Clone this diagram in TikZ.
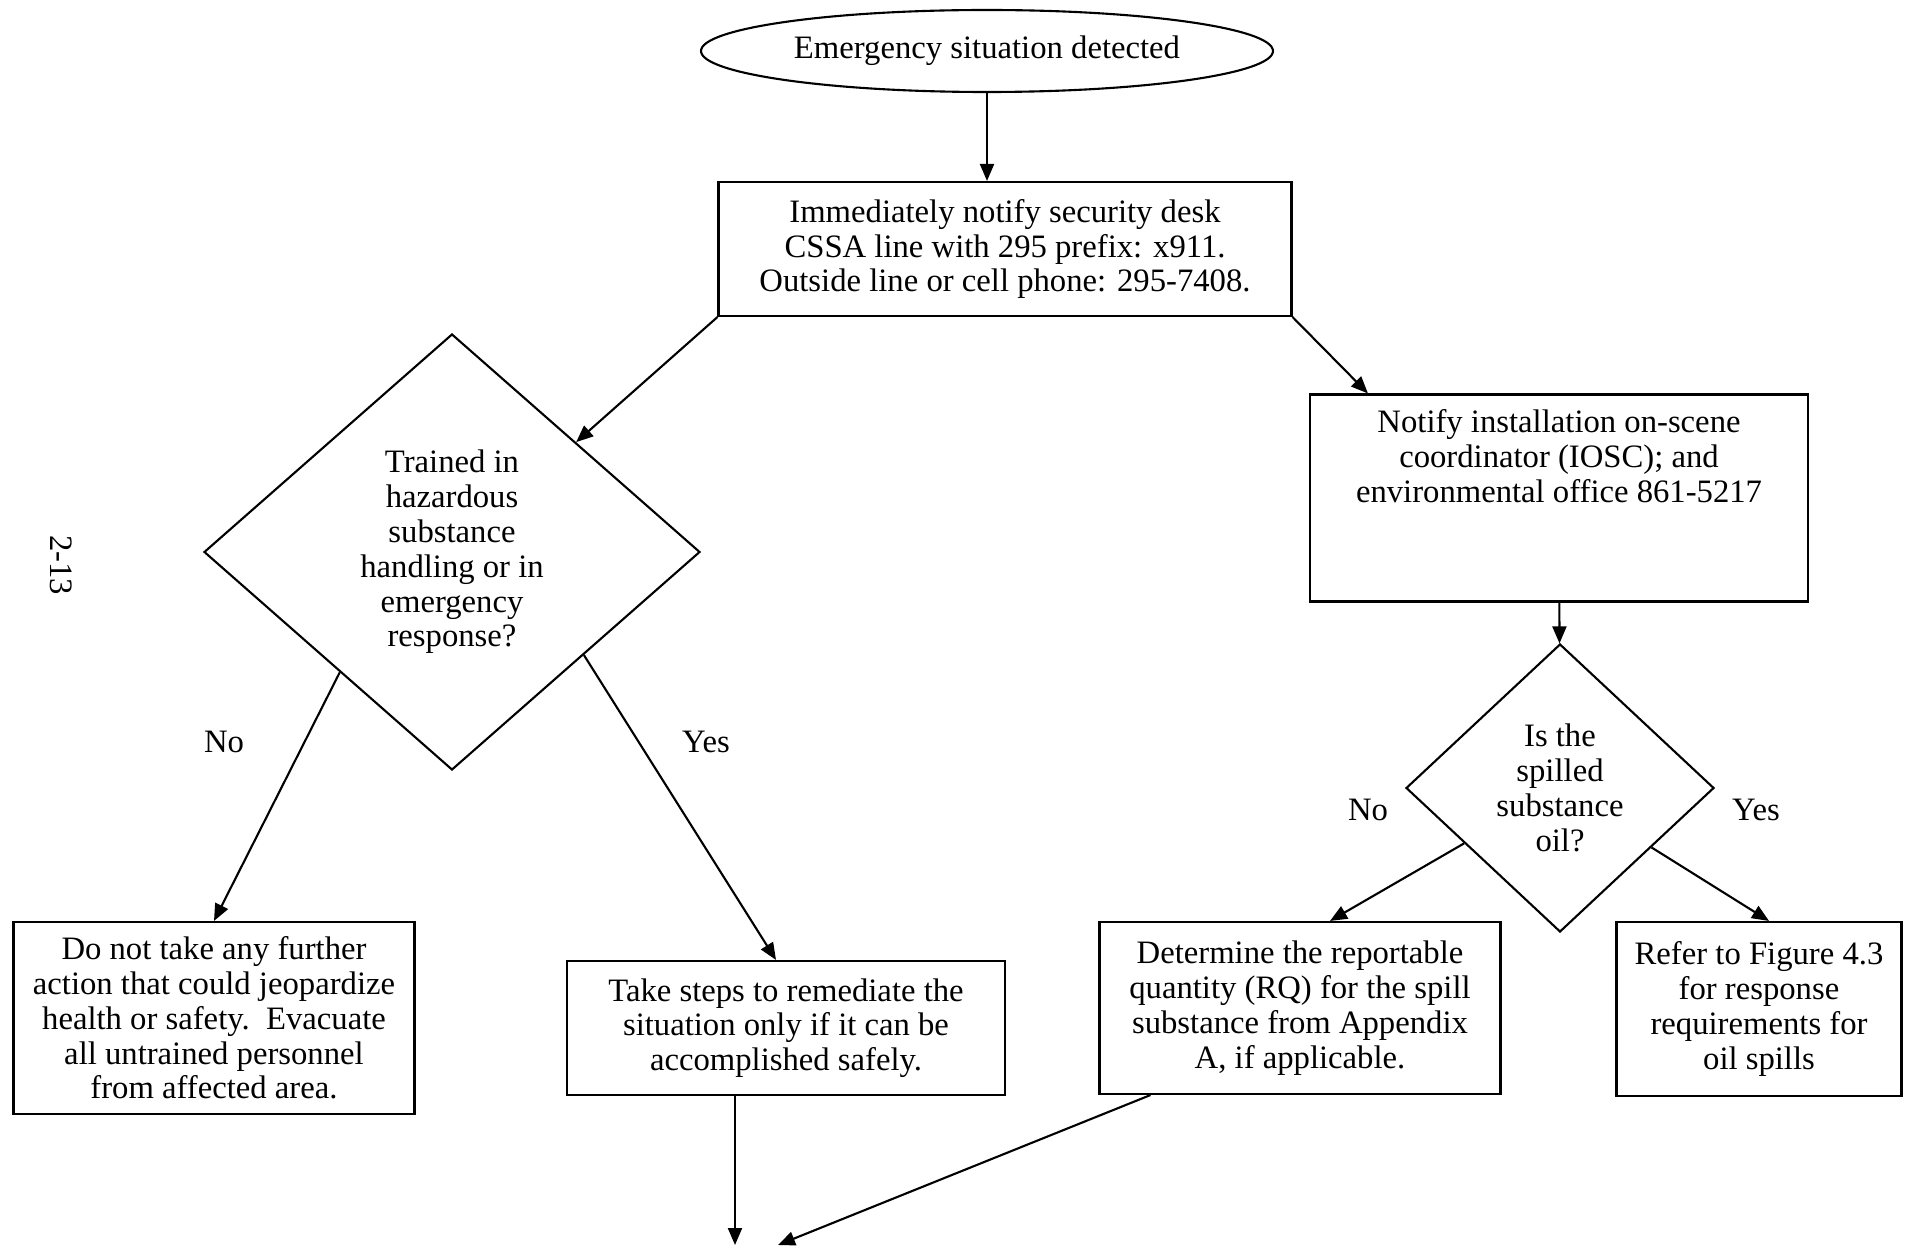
\documentclass[tikz,border=0pt]{standalone}
\usepackage{fontspec}
\setmainfont{Liberation Serif}
\usetikzlibrary{shapes.geometric,arrows.meta}

\begin{document}
\begin{tikzpicture}[semithick,>={Triangle[length=1.7mm,width=1.4mm]},
  every node/.style={font=\fontsize{9.3}{9.9}\selectfont},
  box/.style={rectangle,draw,align=center,inner sep=0pt},
  decision/.style={diamond,draw,align=center,inner sep=0pt}]
\useasboundingbox (0,0) rectangle (19.05,12.49);
%\draw[help lines] (0,0) grid (19,12);
\path (9.87,11.98) node(start) [ellipse,draw,inner sep=0pt,minimum width=5.72cm,minimum height=0.82cm] {Emergency situation detected}
(10.05,10.00) node(notify) [box,minimum width=5.73cm,minimum height=1.34cm] {Immediately notify security desk\\CSSA line with 295 prefix: x911.\\Outside line or cell phone: 295-7408.}
(15.59,7.51) node(iosc) [box,minimum width=4.98cm,minimum height=2.07cm] {Notify installation on-scene\\coordinator (IOSC); and\\environmental office 861-5217\\\mbox{}\\[0.14cm]\mbox{}}
(4.52,6.97) node(trained) [decision,minimum width=4.96cm,minimum height=4.36cm] {Trained in\\hazardous\\substance\\handling or in\\emergency\\response?}
(15.60,4.61) node(oil) [decision,minimum width=3.08cm,minimum height=2.88cm] {Is the\\spilled\\substance\\oil?}
(2.14,2.31) node(nogo) [box,minimum width=4.01cm,minimum height=1.92cm] {Do not take any further\\action that could jeopardize\\health or safety.\ \ Evacuate\\all untrained personnel\\from affected area.}
(7.86,2.21) node(remedy) [box,minimum width=4.38cm,minimum height=1.34cm] {Take steps to remediate the\\situation only if it can be\\accomplished safely.}
(13.00,2.41) node(rq) [box,minimum width=4.01cm,minimum height=1.72cm] {Determine the reportable\\quantity (RQ) for the spill\\substance from Appendix\\A, if applicable.}
(17.59,2.40) node(fig) [box,minimum width=2.85cm,minimum height=1.74cm] {Refer to Figure 4.3\\for response\\requirements for\\oil spills}
(2.24,5.07) node(no1) {No}
(7.06,5.07) node(yes1) {Yes}
(13.68,4.39) node(no2) {No}
(17.56,4.39) node(yes2) {Yes}
(0.61,6.84) node(page) [rotate=-90] {2-13};
\coordinate (out1) at (7.35,0.04);
\coordinate (out2) at (7.78,0.04);

\draw[->] (start) -- (start |- notify.north);
\draw[->] (notify.south west) -- (trained);
\draw[->] (notify.south east) -- ([xshift=5.9mm]iosc.north west);
\draw[->] (iosc) -- (oil);
\draw[->] (trained.227) -- (nogo.north);
\draw[->] (trained.322) -- ([xshift=-1mm]remedy.north);
\draw[->] (oil.210) -- ([xshift=3mm]rq.north);
\draw[->] (oil.327) -- ([xshift=1mm]fig.north);
\draw[->] (remedy.south -| out1) -- (out1);
\draw[->] ([xshift=5.2mm]rq.south west) -- (out2);
\end{tikzpicture}
\end{document}
